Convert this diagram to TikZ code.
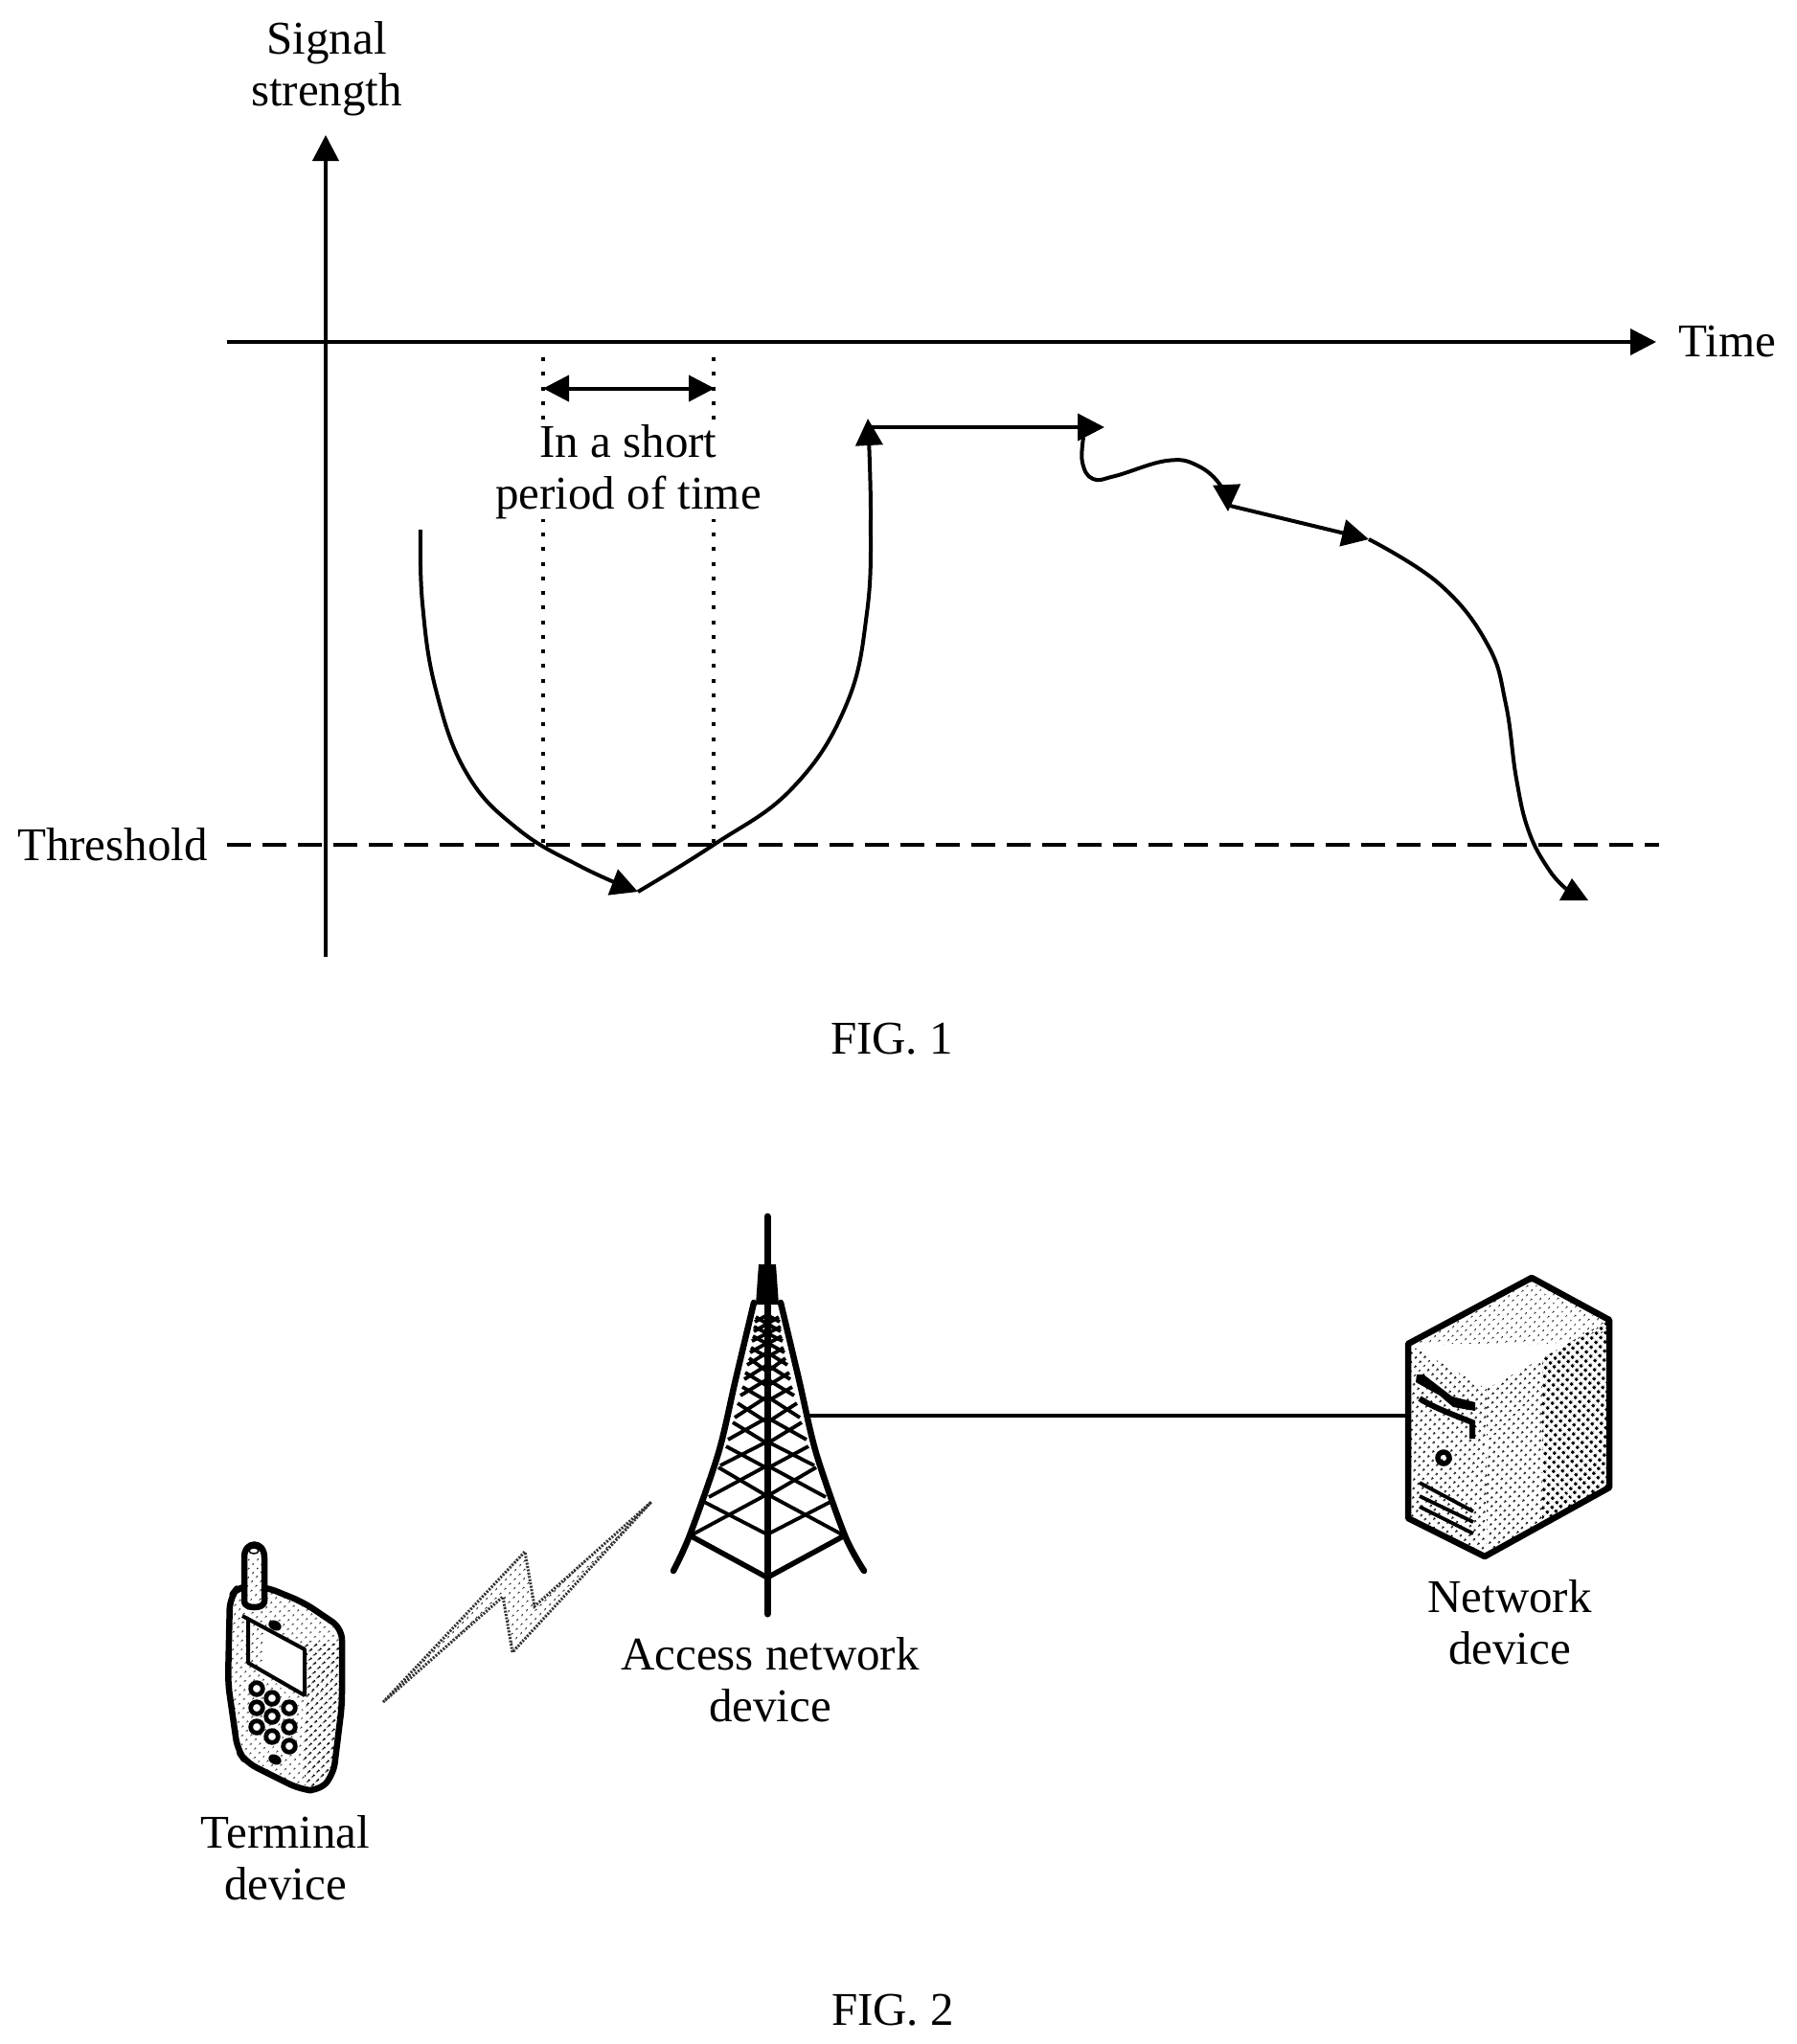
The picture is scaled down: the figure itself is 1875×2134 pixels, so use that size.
\documentclass[tikz,border=0pt]{standalone}
\usepackage{fontspec}
\setmainfont{Liberation Serif}
\usetikzlibrary{positioning, arrows.meta, patterns.meta}

\begin{document}
\begin{tikzpicture}[
		x=1pt, y=-1pt,
		node distance=10pt,
		txt/.style={font=\fontsize{49}{54}\selectfont, align=center, inner sep=0pt},
		axisline/.style={line width=4pt},
		arrow/.style={line width=4pt, -{Triangle[length=27pt, width=27pt]}},
		curveline/.style={line width=4pt},
		dotline/.style={line width=4pt, dash pattern=on 4pt off 11.25pt},
		dashline/.style={line width=3.8pt, dash pattern=on 25pt off 12pt},
		leg/.style={line width=6.5pt, line cap=round, line join=round},
		brace/.style={line width=3.8pt},
		outline/.style={line width=6.5pt, line join=round},
		dotlight/.style={pattern={Dots[distance=6.5pt, radius=1.1pt, angle=45]}},
		dotmid/.style={pattern={Dots[distance=6.5pt, radius=1.5pt, angle=45]}},
		dotdark/.style={pattern={Dots[distance=6.5pt, radius=2pt, angle=45]}}
	]

	\useasboundingbox (0,0) rectangle (1875,2134);

	\coordinate (ybottom) at (340,999);
	\coordinate (ytop) at (340,141);
	\coordinate (xleft) at (237,357);
	\coordinate (xright) at (1729,357);
	\coordinate (thleft) at (237,882);
	\coordinate (thright) at (1732,882);
	\coordinate (dotatop) at (567,373);
	\coordinate (dotabottom) at (567,880);
	\coordinate (dotbtop) at (745,373);
	\coordinate (dotbbottom) at (745,880);
	\coordinate (spanleft) at (567,405.5);
	\coordinate (spanright) at (746,405.5);

	\coordinate (start) at (439,553);
	\coordinate (dip) at (666,931);
	\coordinate (peak) at (906,437);
	\coordinate (flat) at (1153,446);
	\coordinate (wave) at (1282,534);
	\coordinate (slope) at (1429,563);
	\coordinate (drop) at (1635,928);

	\draw[dotline] (dotatop) -- (dotabottom);
	\draw[dotline] (dotbtop) -- (dotbbottom);
	\draw[dashline] (thleft) -- (thright);
	\draw[arrow] (ybottom) -- (ytop);
	\draw[arrow] (xleft) -- (xright);
	\draw[arrow, {Triangle[length=27pt, width=27pt]}-{Triangle[length=27pt, width=27pt]}] (spanleft) -- (spanright);

	\node (signal) [txt, above=20pt of ytop, xshift=1pt] {Signal\\strength};
	\node (timelabel) [txt, right=22pt of xright, xshift=1pt] {Time};
	\node (threshold) [txt, left=20pt of thleft] {Threshold};
	\node (shortperiod) [txt, fill=white] at (656,493) {In a short\\period of time};
	\node (figone) [txt] at (931,1085) {FIG. 1};
	\node (figtwo) [txt] at (932,2099) {FIG. 2};

	\draw[curveline, -{Triangle[length=28pt, width=28pt]}] plot[smooth, tension=0.7] coordinates {(start) (441,630) (455,720) (487,807) (540,865) (607,905) (dip)};
	\draw[curveline, -{Triangle[length=28pt, width=28pt]}] plot[smooth, tension=0.7] coordinates {(dip) (745,882) (827,823) (883,737) (905,640) (909,540) (peak)};
	\draw[curveline, -{Triangle[length=28pt, width=28pt]}] (906,446) -- (flat);
	\draw[curveline, -{Triangle[length=28pt, width=28pt]}] plot[smooth, tension=0.7] coordinates {(1131,457) (1130,483) (1141,500) (1164,497) (1218,481) (1250,486) (1275,508) (wave)};
	\draw[curveline, -{Triangle[length=28pt, width=28pt]}] (1284,528) -- (slope);
	\draw[curveline] plot[smooth, tension=0.7] coordinates {(slope) (1503,610) (1553,673) (1572,735) (1583,813) (1596,868) (1617,908) (drop)};
	\fill (1641,917) -- (1658,940) -- (1628,940) -- cycle;

	\coordinate (towerfoot) at (801,1685);
	\coordinate (towerjoint) at (843,1478);
	\coordinate (serverjoint) at (1470,1478);

	\draw[axisline] (towerjoint) -- (serverjoint);

	\draw[leg, line width=7pt] (801,1270) -- (towerfoot);
	\fill (792,1320) -- (810,1320) -- (813,1362) -- (789,1362) -- cycle;
	\draw[leg] plot[smooth] coordinates {(787,1360) (768,1440) (750,1517) (720,1603) (703,1640)};
	\draw[leg] plot[smooth] coordinates {(815,1360) (834,1440) (852,1517) (882,1603) (902,1640)};
	\draw[leg, line width=5.5pt] (720,1603) -- (801,1647) -- (882,1603);
	\foreach \dx/\ly/\cy in {78/1602/1560, 61/1563/1530, 49/1530/1505, 41/1503/1480, 34/1480/1458, 28/1457/1440, 24/1440/1425, 21/1425/1412, 18/1412/1402, 16/1400/1392, 14/1390/1382, 13/1380/1373, 66/1568/1602, 51/1532/1562, 43/1510/1533, 36/1485/1507, 31/1465/1485, 26/1448/1463, 23/1433/1447, 19/1418/1432, 17/1407/1417, 15/1395/1403, 14/1385/1392, 12/1375/1382} {
		\draw[brace] (801-\dx,\ly) -- (801,\cy);
		\draw[brace] (801+\dx,\ly) -- (801,\cy);
	}

	\node (access) [txt, below=24pt of towerfoot, xshift=3pt] {Access network\\device};

	\fill[dotlight] (1599,1334) -- (1680,1378) -- (1680,1392) -- (1620,1403) -- (1470,1403) -- cycle;
	\fill[dotmid] (1470,1403) -- (1552,1450) -- (1552,1625) -- (1470,1585) -- cycle;
	\fill[dotmid] (1552,1450) -- (1610,1418) -- (1610,1593) -- (1552,1625) -- cycle;
	\fill[dotdark] (1610,1418) -- (1680,1378) -- (1680,1553) -- (1610,1593) -- cycle;
	\draw[outline] (1599,1334) -- (1680,1378) -- (1680,1553) -- (1550,1625) -- (1470,1585) -- (1470,1403) -- cycle;
	\fill (1479,1435) -- (1486,1435) -- (1503,1448) -- (1516,1458) -- (1540,1464) -- (1540,1473) -- (1517,1469) -- (1503,1457) -- (1478,1443) -- cycle;
	\draw[line width=6pt] (1482,1460) .. controls (1495,1469) and (1520,1478) .. (1537,1485) -- (1537,1502);
	\draw[line width=5.5pt] (1507,1522) circle [radius=6pt];
	\draw[brace] (1482,1548) -- (1538,1578);
	\draw[brace] (1482,1562) -- (1538,1589);
	\draw[brace] (1482,1573) -- (1538,1601);
	\coordinate (serverfoot) at (1576,1625);

	\node (network) [txt, below=24pt of serverfoot] {Network\\device};

	\fill[dotlight, draw=black!80, line width=3pt, dash pattern=on 2pt off 1.5pt] (400,1777) -- (548,1620) -- (558,1677) -- (680,1568) -- (535,1725) -- (525,1667) -- cycle;

	\coordinate (phonefoot) at (298,1868);
	\draw[outline, fill=white, rounded corners=12pt] (240,1668) -- (250,1655) -- (278,1657) -- (317,1673) -- (357,1700) -- (357,1780) -- (348,1853) -- (333,1870) -- (313,1868) -- (257,1840) -- (248,1827) -- (238,1757) -- cycle;
	\fill[dotlight, rounded corners=12pt] (243,1668) -- (250,1658) -- (278,1660) -- (317,1676) -- (354,1702) -- (354,1780) -- (345,1851) -- (333,1866) -- (313,1865) -- (259,1837) -- (251,1825) -- (241,1757) -- cycle;
	\fill[dotmid] (318,1713) -- (354,1716) -- (354,1780) -- (345,1851) -- (333,1866) -- (318,1864) -- cycle;
	\fill[white] (259,1690) -- (318,1722) -- (318,1770) -- (259,1736) -- cycle;
	\fill[dotlight] (259,1690) -- (275,1699) -- (275,1745) -- (259,1736) -- cycle;
	\draw[outline, line width=4pt] (253,1687) -- (318,1722) -- (318,1771);
	\draw[outline, line width=4pt] (259,1690) -- (259,1736) -- (318,1770);
	\fill (287,1697) ellipse [x radius=7pt, y radius=5pt, rotate=-25];
	\fill (287,1837) ellipse [x radius=7pt, y radius=5pt, rotate=-25];
	\foreach \kx/\ky in {268/1763, 284/1773, 302/1783, 268/1783, 284/1792, 302/1803, 268/1803, 284/1813, 302/1823} {
		\draw[line width=4.8pt, fill=white] (\kx,\ky) circle [radius=6.3pt];
	}
	\draw[outline, fill=white] (255,1672) -- (255,1626) .. controls (255,1608) and (276,1608) .. (276,1626) -- (276,1672) .. controls (276,1680) and (255,1680) .. cycle;
	\fill[dotlight] (258,1672) -- (258,1626) -- (273,1626) -- (273,1672) -- cycle;
	\draw[line width=1.5pt, fill=white] (265,1619) ellipse [x radius=5pt, y radius=3pt];

	\node (terminal) [txt, below=27pt of phonefoot] {Terminal\\device};

\end{tikzpicture}
\end{document}
